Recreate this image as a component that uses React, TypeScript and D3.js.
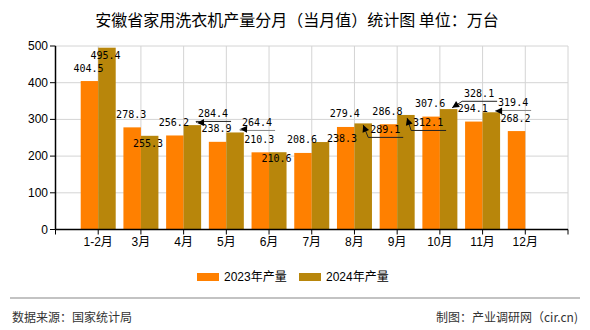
import React from "react";
import * as d3 from "d3";

const categories = ["1-2月", "3月", "4月", "5月", "6月", "7月", "8月", "9月", "10月", "11月", "12月"];
const values2023 = [404.5, 278.3, 256.2, 238.9, 210.3, 208.6, 279.4, 286.8, 307.6, 294.1, 268.2];
const values2024 = [495.4, 255.3, 284.4, 264.4, 210.6, 238.3, 289.1, 312.1, 328.1, 319.4];
const yTicks = [0, 100, 200, 300, 400, 500];
const seriesNames = ["2023年产量", "2024年产量"];

// label layout (styling): offsets from bar top-centre
const lab2024: { dx: number; dy: number; leader?: [number, number]; gray?: boolean }[] = [
  { dx: -1.5, dy: 8 },
  { dx: -1.6, dy: 8.1 },
  { dx: 20.7, dy: -11.2, leader: [4.7, -2.2] },
  { dx: 22, dy: -9.5, leader: [5, -3.5], gray: true },
  { dx: -1.2, dy: 6.6 },
  { dx: 21.6, dy: -3.3 },
  { dx: 22, dy: 6.5, leader: [0, 1.5] },
  { dx: 22.2, dy: 8, leader: [1.2, 3] },
  { dx: 30.5, dy: -15.3, leader: [3.5, -1.3] },
  { dx: 21.8, dy: -9.3, leader: [3.8, -1.3], gray: true },
];

const W = 590, H = 330;
const L = 55.5, R = 568, T = 46, B = 229.5;
const C1 = "#FF8000", C2 = "#B8860B";
const BW = 17.5;

export default function App() {
  const x = d3.scaleLinear().domain([0, categories.length + 1]).range([L, R]);
  const y = d3.scaleLinear().domain([0, 500]).range([B, T]);
  const cx = (i: number) => x(i + 1);
  const num = "'DejaVu Sans Mono', monospace";
  const sans = "'Liberation Sans', 'Noto Sans CJK SC', sans-serif";
  const cjk = "'Noto Sans CJK SC', sans-serif";

  const arrow = (px: number, py: number, qx: number, qy: number, color: string) => {
    const ang = Math.atan2(py - qy, px - qx);
    const len = 7, wid = 3.5;
    const bx = px - Math.cos(ang) * len, by = py - Math.sin(ang) * len;
    const nx = -Math.sin(ang) * wid, ny = Math.cos(ang) * wid;
    return <polygon points={`${px},${py} ${bx + nx},${by + ny} ${bx - nx},${by - ny}`} fill={color} />;
  };

  return (
    <div style={{ position: "absolute", left: 0, top: 0 }}>
      <svg width={W} height={H} style={{ display: "block", background: "#fff" }}>
        <text x={297} y={19} textAnchor="middle" dominantBaseline="central" fontFamily={cjk} fontSize={16} fill="#000">
          安徽省家用洗衣机产量分月（当月值）统计图 单位：万台
        </text>
        {/* grid */}
        {yTicks.filter((t) => t > 0).map((t) => (
          <line key={"h" + t} x1={L} x2={R} y1={y(t)} y2={y(t)} stroke="#d4d4d4" strokeWidth={1} />
        ))}
        {categories.map((c, i) => (
          <line key={"v" + c} x1={cx(i)} x2={cx(i)} y1={T} y2={B} stroke="#d4d4d4" strokeWidth={1} />
        ))}
        <line x1={R} x2={R} y1={T} y2={B} stroke="#d4d4d4" strokeWidth={1} />
        {/* bars */}
        {values2023.map((v, i) => (
          <rect key={"a" + i} x={cx(i) - BW} y={y(v)} width={BW} height={y(0) - y(v)} fill={C1} />
        ))}
        {values2024.map((v, i) => (
          <rect key={"b" + i} x={cx(i)} y={y(v)} width={BW} height={y(0) - y(v)} fill={C2} />
        ))}
        {/* axes */}
        <line x1={L} x2={L} y1={T} y2={B} stroke="#000" strokeWidth={1.5} />
        <line x1={L} x2={R} y1={B} y2={B} stroke="#000" strokeWidth={1.5} />
        {yTicks.map((t) => (
          <g key={"yt" + t}>
            <line x1={L - 5.5} x2={L} y1={y(t)} y2={y(t)} stroke="#000" strokeWidth={1} />
            <text x={48} y={y(t)} textAnchor="end" dominantBaseline="central" fontFamily={sans} fontSize={12} fill="#000">
              {t}
            </text>
          </g>
        ))}
        {[L, ...categories.map((_, i) => cx(i)), R].map((px, k) => (
          <line key={"xt" + k} x1={px} x2={px} y1={B} y2={B + 5} stroke="#000" strokeWidth={1} />
        ))}
        {categories.map((c, i) => (
          <text key={"xl" + c} x={cx(i)} y={242} textAnchor="middle" dominantBaseline="central" fontFamily={sans} fontSize={12} fill="#000">
            {c}
          </text>
        ))}
        {/* 2023 labels */}
        {values2023.map((v, i) => (
          <text key={"la" + i} x={cx(i) - BW / 2 - 1} y={y(v) - 13} textAnchor="middle" dominantBaseline="central" fontFamily={num} fontSize={10} fill="#000">
            {v.toFixed(1)}
          </text>
        ))}
        {/* 2024 labels */}
        {values2024.map((v, i) => {
          const bx = cx(i) + BW / 2, by = y(v);
          const o = lab2024[i];
          const lx = bx + o.dx, ly = by + o.dy;
          const color = o.gray ? "#8a8a8a" : "#222";
          let lead = null;
          if (o.leader) {
            const ax = bx + o.leader[0], ay = by + o.leader[1];
            const ux1 = lx - 17, ux2 = lx + 18, uy = ly + 7.5;
            lead = (
              <g>
                <polyline points={`${ax},${ay} ${ux1},${uy} ${ux2},${uy}`} fill="none" stroke={color} strokeWidth={1} />
                {Math.hypot(ux1 - ax, uy - ay) > 2 ? arrow(ax, ay, ux1, uy, "#000") : arrow(ax, ay, ux2, uy, "#000")}
              </g>
            );
          }
          return (
            <g key={"lb" + i}>
              {lead}
              <text x={lx} y={ly} textAnchor="middle" dominantBaseline="central" fontFamily={num} fontSize={10} fill="#000">
                {v.toFixed(1)}
              </text>
            </g>
          );
        })}
        {/* legend */}
        {seriesNames.map((s, k) => (
          <g key={"lg" + s} transform={`translate(${197 + k * 102},273)`}>
            <rect x={0} y={0} width={22} height={8} fill={k === 0 ? C1 : C2} />
            <text x={27} y={4} dominantBaseline="central" fontFamily={sans} fontSize={12} fill="#000">
              {s}
            </text>
          </g>
        ))}
        {/* footer */}
        <line x1={10} x2={580} y1={298} y2={298} stroke="#888" strokeWidth={1.2} />
        <text x={12} y={316} dominantBaseline="central" fontFamily={cjk} fontSize={12} fill="#333">
          数据来源：国家统计局
        </text>
        <text x={578} y={316} textAnchor="end" dominantBaseline="central" fontFamily={cjk} fontSize={12} fill="#333">
          制图：产业调研网（cir.cn)
        </text>
      </svg>
    </div>
  );
}
